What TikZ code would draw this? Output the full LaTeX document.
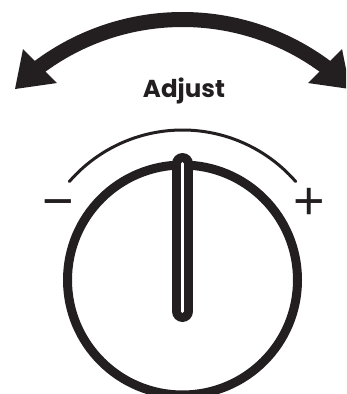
\documentclass[tikz,border=0pt]{standalone}
\usepackage{fontspec}
\newfontfamily\popfont{Poppins}
\newfontfamily\arialfont{Liberation Sans}
\definecolor{ink}{HTML}{231F20}
\tikzset{
  signlabel/.style={font=\arialfont\fontsize{54}{54}\selectfont, text=ink, anchor=base, inner sep=0pt},
  titlelabel/.style={font=\popfont\bfseries\fontsize{24.5}{24.5}\selectfont, text=ink, anchor=base, inner sep=0pt},
  thickarrow/.style={draw=ink, line width=15pt},
  ring/.style={draw=ink, line width=9pt},
  thinarc/.style={draw=ink, line width=3pt, line cap=round}
}
\begin{document}
\begin{tikzpicture}[x=1pt,y=-1pt,line join=round]
\useasboundingbox (0,0) rectangle (346,394);
\clip (0,0) rectangle (346,394);
\coordinate (c) at (182.5,280);
\coordinate (ac) at (182.5,259.5);
% big double arrow
\draw[thickarrow] (ac) ++(233:240) arc[start angle=233, end angle=307, radius=240];
\fill[ink] (15,89) -- (23,49) -- (57,83) -- cycle;
\fill[ink] (350,89) -- (342,49) -- (308,83) -- cycle;
% title
\node[titlelabel] (adj) at (184,97) {Adjust};
% scale arc
\draw[thinarc] (c) ++(221:150) arc[start angle=221, end angle=319, radius=150];
\node[signlabel] (minus) at (58.5,219) {−};
\node[signlabel] (plus) at (309.5,219) {+};
% dial
\draw[ring] (c) circle[radius=115];
\coordinate (ptop) at (182.5,163.5);
\coordinate (pbot) at (182.5,311.5);
\draw[draw=ink, line width=21pt, line cap=round] (ptop) -- (pbot);
\draw[draw=white, line width=3pt, line cap=round] (ptop) -- (pbot);
\end{tikzpicture}
\end{document}
